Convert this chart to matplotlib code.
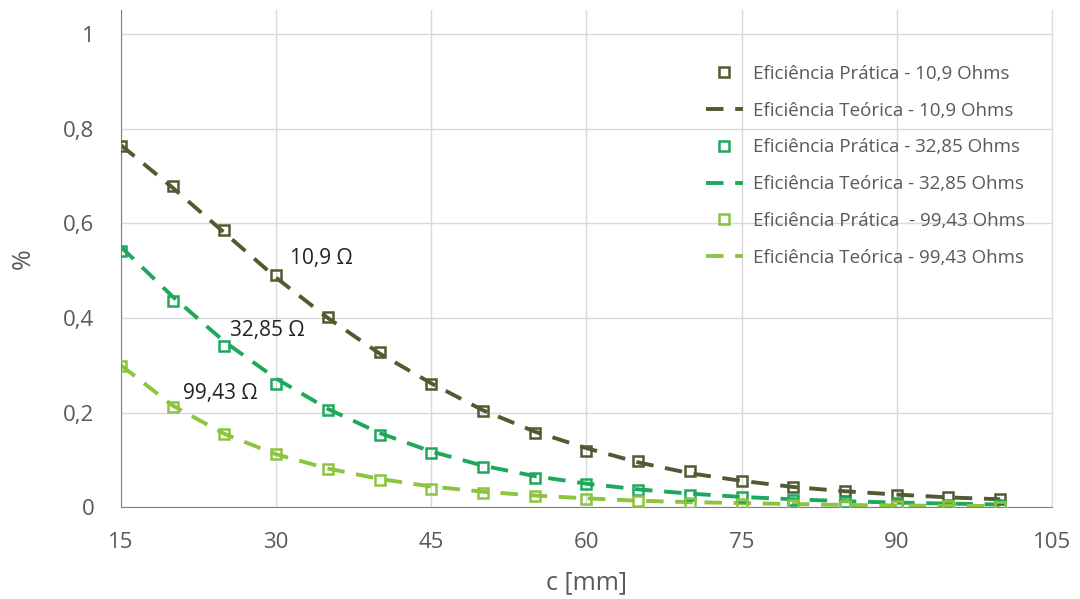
import numpy as np
import matplotlib.pyplot as plt

plt.rcParams['font.family'] = ['Open Sans', 'DejaVu Sans']

# --- data ---
c_mm = [15, 20, 25, 30, 35, 40, 45, 50, 55, 60, 65, 70, 75, 80, 85, 90, 95, 100]

prat_109 = [0.763, 0.679, 0.586, 0.490, 0.402, 0.328, 0.260, 0.203, 0.156, 0.120,
            0.097, 0.076, 0.055, 0.044, 0.034, 0.027, 0.021, 0.017]
teor_109 = [0.765, 0.675, 0.580, 0.485, 0.400, 0.325, 0.262, 0.205, 0.160, 0.125,
            0.095, 0.072, 0.056, 0.043, 0.034, 0.027, 0.021, 0.017]

prat_3285 = [0.541, 0.436, 0.340, 0.260, 0.205, 0.152, 0.114, 0.085, 0.063, 0.049,
             0.036, 0.027, 0.021, 0.015, 0.011, 0.009, 0.006, 0.005]
teor_3285 = [0.550, 0.445, 0.350, 0.272, 0.208, 0.157, 0.118, 0.088, 0.066, 0.050,
             0.038, 0.029, 0.022, 0.017, 0.013, 0.010, 0.008, 0.006]

prat_9943 = [0.298, 0.211, 0.154, 0.112, 0.080, 0.057, 0.038, 0.030, 0.023, 0.017,
             0.013, 0.010, 0.007, 0.005, 0.003, 0.003, 0.002, 0.000]
teor_9943 = [0.300, 0.215, 0.155, 0.112, 0.082, 0.060, 0.044, 0.033, 0.025, 0.019,
             0.014, 0.011, 0.009, 0.007, 0.005, 0.004, 0.003, 0.003]

labels_prat = ['Eficiência Prática - 10,9 Ohms', 'Eficiência Prática - 32,85 Ohms',
               'Eficiência Prática  - 99,43 Ohms']
labels_teor = ['Eficiência Teórica - 10,9 Ohms', 'Eficiência Teórica - 32,85 Ohms',
               'Eficiência Teórica - 99,43 Ohms']
colors = ['#4F5B31', '#1EA85C', '#8CC43F']

x_ticks = [15, 30, 45, 60, 75, 90, 105]
y_ticks = [0, 0.2, 0.4, 0.6, 0.8, 1]

fig, ax = plt.subplots(figsize=(10.8, 5.99), dpi=100)
fig.subplots_adjust(left=0.112, right=0.974, top=0.983, bottom=0.153)

series = [(prat_109, teor_109), (prat_3285, teor_3285), (prat_9943, teor_9943)]
for i, (p, t) in enumerate(series):
    ax.plot(c_mm, p, linestyle='none', marker='s', markersize=7.5, markerfacecolor='none',
            markeredgecolor=colors[i], markeredgewidth=1.8, label=labels_prat[i], zorder=3)
    ax.plot(c_mm, t, linestyle=(0, (4.5, 3)), color=colors[i], linewidth=2.8,
            label=labels_teor[i], zorder=2)

ax.set_xlim(15, 105)
ax.set_ylim(0, 1.05)
ax.set_xticks(x_ticks)
ax.set_yticks(y_ticks)
ax.set_yticklabels(['0', '0,2', '0,4', '0,6', '0,8', '1'])
ax.grid(True, color='#D9D9D9', linewidth=1)
ax.set_axisbelow(True)

ax.spines['top'].set_visible(False)
ax.spines['right'].set_color('#D9D9D9')
ax.spines['left'].set_color('#7F7F7F')
ax.spines['bottom'].set_color('#7F7F7F')
ax.tick_params(axis='both', colors='#595959', labelsize=16, length=0)
ax.tick_params(axis='y', pad=19)
ax.tick_params(axis='x', pad=18)

ax.set_xlabel('c [mm]', fontsize=18, color='#595959', labelpad=12)
ax.set_ylabel('%', fontsize=18, color='#595959', labelpad=20)

ax.text(31.3, 0.525, '10,9 Ω', fontsize=15, color='#222222', va='center')
ax.text(25.5, 0.374, '32,85 Ω', fontsize=15, color='#222222', va='center')
ax.text(21.0, 0.24, '99,43 Ω', fontsize=15, color='#222222', va='center')

leg = ax.legend(loc='upper left', bbox_to_anchor=(0.62, 0.905), frameon=False, fontsize=13.5,
                labelcolor='#595959', handlelength=2.0, labelspacing=1.0, handletextpad=0.5,
                borderaxespad=0)

fig.savefig('out.png')
